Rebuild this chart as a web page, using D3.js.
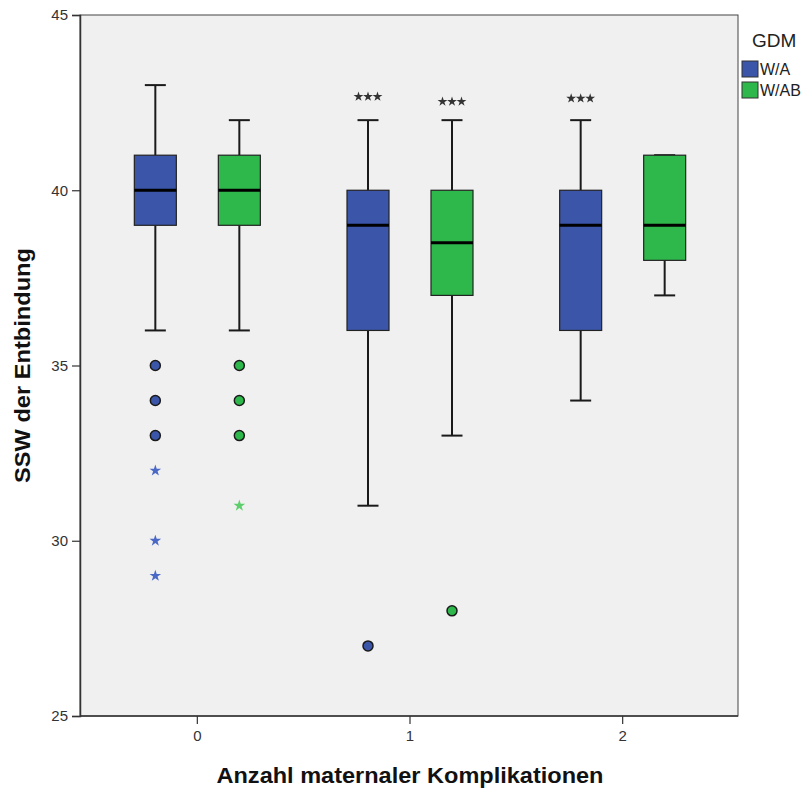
<!DOCTYPE html>
<html>
<head>
<meta charset="utf-8">
<script src="https://cdn.jsdelivr.net/npm/d3@7"></script>
<style>
  body { margin: 0; background: #ffffff; }
  svg { display: block; font-family: "Liberation Sans", Arial, sans-serif; }
</style>
</head>
<body>
<svg id="chart" width="809" height="789"></svg>
<script>
// Kategorien und Gruppen
var categories = ["0", "1", "2"];
var groups = ["W/A", "W/AB"];
var groupColors = ["#3b55a8", "#2eb84b"];
var starColors = ["#4a68c6", "#5ccf6c"];

// Boxplot-Kennwerte je Kategorie (Reihenfolge: W/A, W/AB)
var whiskerLow  = [[36, 36], [31, 33], [34, 37]];
var q1          = [[39, 39], [36, 37], [36, 38]];
var median      = [[40, 40], [39, 38.5], [39, 39]];
var q3          = [[41, 41], [40, 40], [40, 41]];
var whiskerHigh = [[43, 42], [42, 42], [42, 41]];

// Ausreisser (Kreis) und Extremwerte (Stern)
var outliers = [
  [[35, 34, 33], [35, 34, 33]],
  [[27], [28]],
  [[], []]
];
var extremes = [
  [[32, 30, 29], [31]],
  [[], []],
  [[], []]
];

// "***"-Markierungen
var sigCat = ["1", "1", "2"];
var sigGroup = ["W/A", "W/AB", "W/A"];
var sigValue = [42.67, 42.53, 42.62];

var yTicks = [25, 30, 35, 40, 45];

var svg = d3.select("#chart");

var frame = { left: 80, right: 738, top: 15, bottom: 716 };

var y = d3.scaleLinear().domain([25, 45]).range([frame.bottom, frame.top]);
var x = d3.scaleBand().domain(categories).range([91, 729]);
var xOff = d3.scalePoint().domain(groups).range([-42, 42]);
var boxW = 42;

function cx(c, g) { return x(c) + x.bandwidth() / 2 + xOff(g); }

// Hintergrund des Plotbereichs
svg.append("rect")
  .attr("x", frame.left).attr("y", frame.top)
  .attr("width", frame.right - frame.left)
  .attr("height", frame.bottom - frame.top)
  .attr("fill", "#f0f0f0")
  .attr("stroke", "#444").attr("stroke-width", 1);

// y-Achse
var yAxis = svg.append("g")
  .attr("transform", "translate(" + frame.left + ",0)")
  .call(d3.axisLeft(y).tickValues(yTicks).tickSize(8).tickPadding(4));
yAxis.attr("font-family", "'Liberation Sans', Arial, sans-serif");
yAxis.select(".domain").attr("stroke", "#333").attr("stroke-width", 1.5);
yAxis.selectAll(".tick line").attr("stroke", "#333").attr("stroke-width", 1.2);
yAxis.selectAll(".tick text").attr("font-size", 15).attr("fill", "#333");

// x-Achse
var xAxis = svg.append("g")
  .attr("transform", "translate(0," + frame.bottom + ")")
  .call(d3.axisBottom(x).tickSize(8).tickPadding(6));
xAxis.attr("font-family", "'Liberation Sans', Arial, sans-serif");
xAxis.select(".domain").attr("stroke", "#333").attr("stroke-width", 1.5)
  .attr("d", "M" + frame.left + ",0H" + frame.right);
xAxis.selectAll(".tick line").attr("stroke", "#333").attr("stroke-width", 1.2);
xAxis.selectAll(".tick text").attr("font-size", 15).attr("fill", "#333");

// Boxplots
var plot = svg.append("g");
categories.forEach(function(c, ci) {
  groups.forEach(function(g, gi) {
    var px = cx(c, g);
    var col = groupColors[gi];
    // Whisker
    plot.append("line")
      .attr("x1", px).attr("x2", px)
      .attr("y1", y(whiskerLow[ci][gi])).attr("y2", y(q1[ci][gi]))
      .attr("stroke", "#1a1a1a").attr("stroke-width", 2);
    plot.append("line")
      .attr("x1", px).attr("x2", px)
      .attr("y1", y(q3[ci][gi])).attr("y2", y(whiskerHigh[ci][gi]))
      .attr("stroke", "#1a1a1a").attr("stroke-width", 2);
    [whiskerLow[ci][gi], whiskerHigh[ci][gi]].forEach(function(v) {
      plot.append("line")
        .attr("x1", px - boxW / 4).attr("x2", px + boxW / 4)
        .attr("y1", y(v)).attr("y2", y(v))
        .attr("stroke", "#1a1a1a").attr("stroke-width", 2);
    });
    // Box
    plot.append("rect")
      .attr("x", px - boxW / 2).attr("width", boxW)
      .attr("y", y(q3[ci][gi]))
      .attr("height", y(q1[ci][gi]) - y(q3[ci][gi]))
      .attr("fill", col)
      .attr("stroke", "#222").attr("stroke-width", 1.2);
    // Median
    plot.append("line")
      .attr("x1", px - boxW / 2).attr("x2", px + boxW / 2)
      .attr("y1", y(median[ci][gi])).attr("y2", y(median[ci][gi]))
      .attr("stroke", "#000").attr("stroke-width", 3);
    // Ausreisser
    outliers[ci][gi].forEach(function(v) {
      plot.append("circle")
        .attr("cx", px).attr("cy", y(v)).attr("r", 5)
        .attr("fill", col).attr("stroke", "#1a1a1a").attr("stroke-width", 1.5);
    });
    // Extremwerte
    extremes[ci][gi].forEach(function(v) {
      plot.append("path")
        .attr("d", d3.symbol().type(d3.symbolStar).size(42)())
        .attr("transform", "translate(" + px + "," + y(v) + ")")
        .attr("fill", starColors[gi]);
    });
  });
});

// "***"-Markierungen
sigCat.forEach(function(c, i) {
  var px = cx(c, sigGroup[i]);
  [-9.5, 0, 9.5].forEach(function(dx) {
    plot.append("path")
      .attr("d", d3.symbol().type(d3.symbolStar).size(30)())
      .attr("transform", "translate(" + (px + dx) + "," + y(sigValue[i]) + ")")
      .attr("fill", "#333");
  });
});

// Achsentitel
svg.append("text")
  .attr("transform", "translate(30," + ((frame.top + frame.bottom) / 2) + ") rotate(-90)")
  .attr("text-anchor", "middle")
  .attr("font-family", "'Liberation Sans', Arial, sans-serif")
  .attr("font-weight", "bold").attr("font-size", 22).attr("fill", "#111")
  .attr("textLength", 235).attr("lengthAdjust", "spacingAndGlyphs")
  .text("SSW der Entbindung");

svg.append("text")
  .attr("x", 410).attr("y", 783)
  .attr("text-anchor", "middle")
  .attr("font-family", "'Liberation Sans', Arial, sans-serif")
  .attr("font-weight", "bold").attr("font-size", 22).attr("fill", "#111")
  .attr("textLength", 387).attr("lengthAdjust", "spacingAndGlyphs")
  .text("Anzahl maternaler Komplikationen");

// Legende
var legend = svg.append("g");
legend.append("text")
  .attr("x", 752).attr("y", 47)
  .attr("font-size", 19).attr("fill", "#222")
  .text("GDM");
groups.forEach(function(g, i) {
  legend.append("rect")
    .attr("x", 742).attr("y", 61 + i * 21)
    .attr("width", 16).attr("height", 16)
    .attr("fill", groupColors[i]).attr("stroke", "#333").attr("stroke-width", 1);
  legend.append("text")
    .attr("x", 760).attr("y", 75 + i * 21)
    .attr("font-size", 16).attr("fill", "#222")
    .text(g);
});
</script>
</body>
</html>
